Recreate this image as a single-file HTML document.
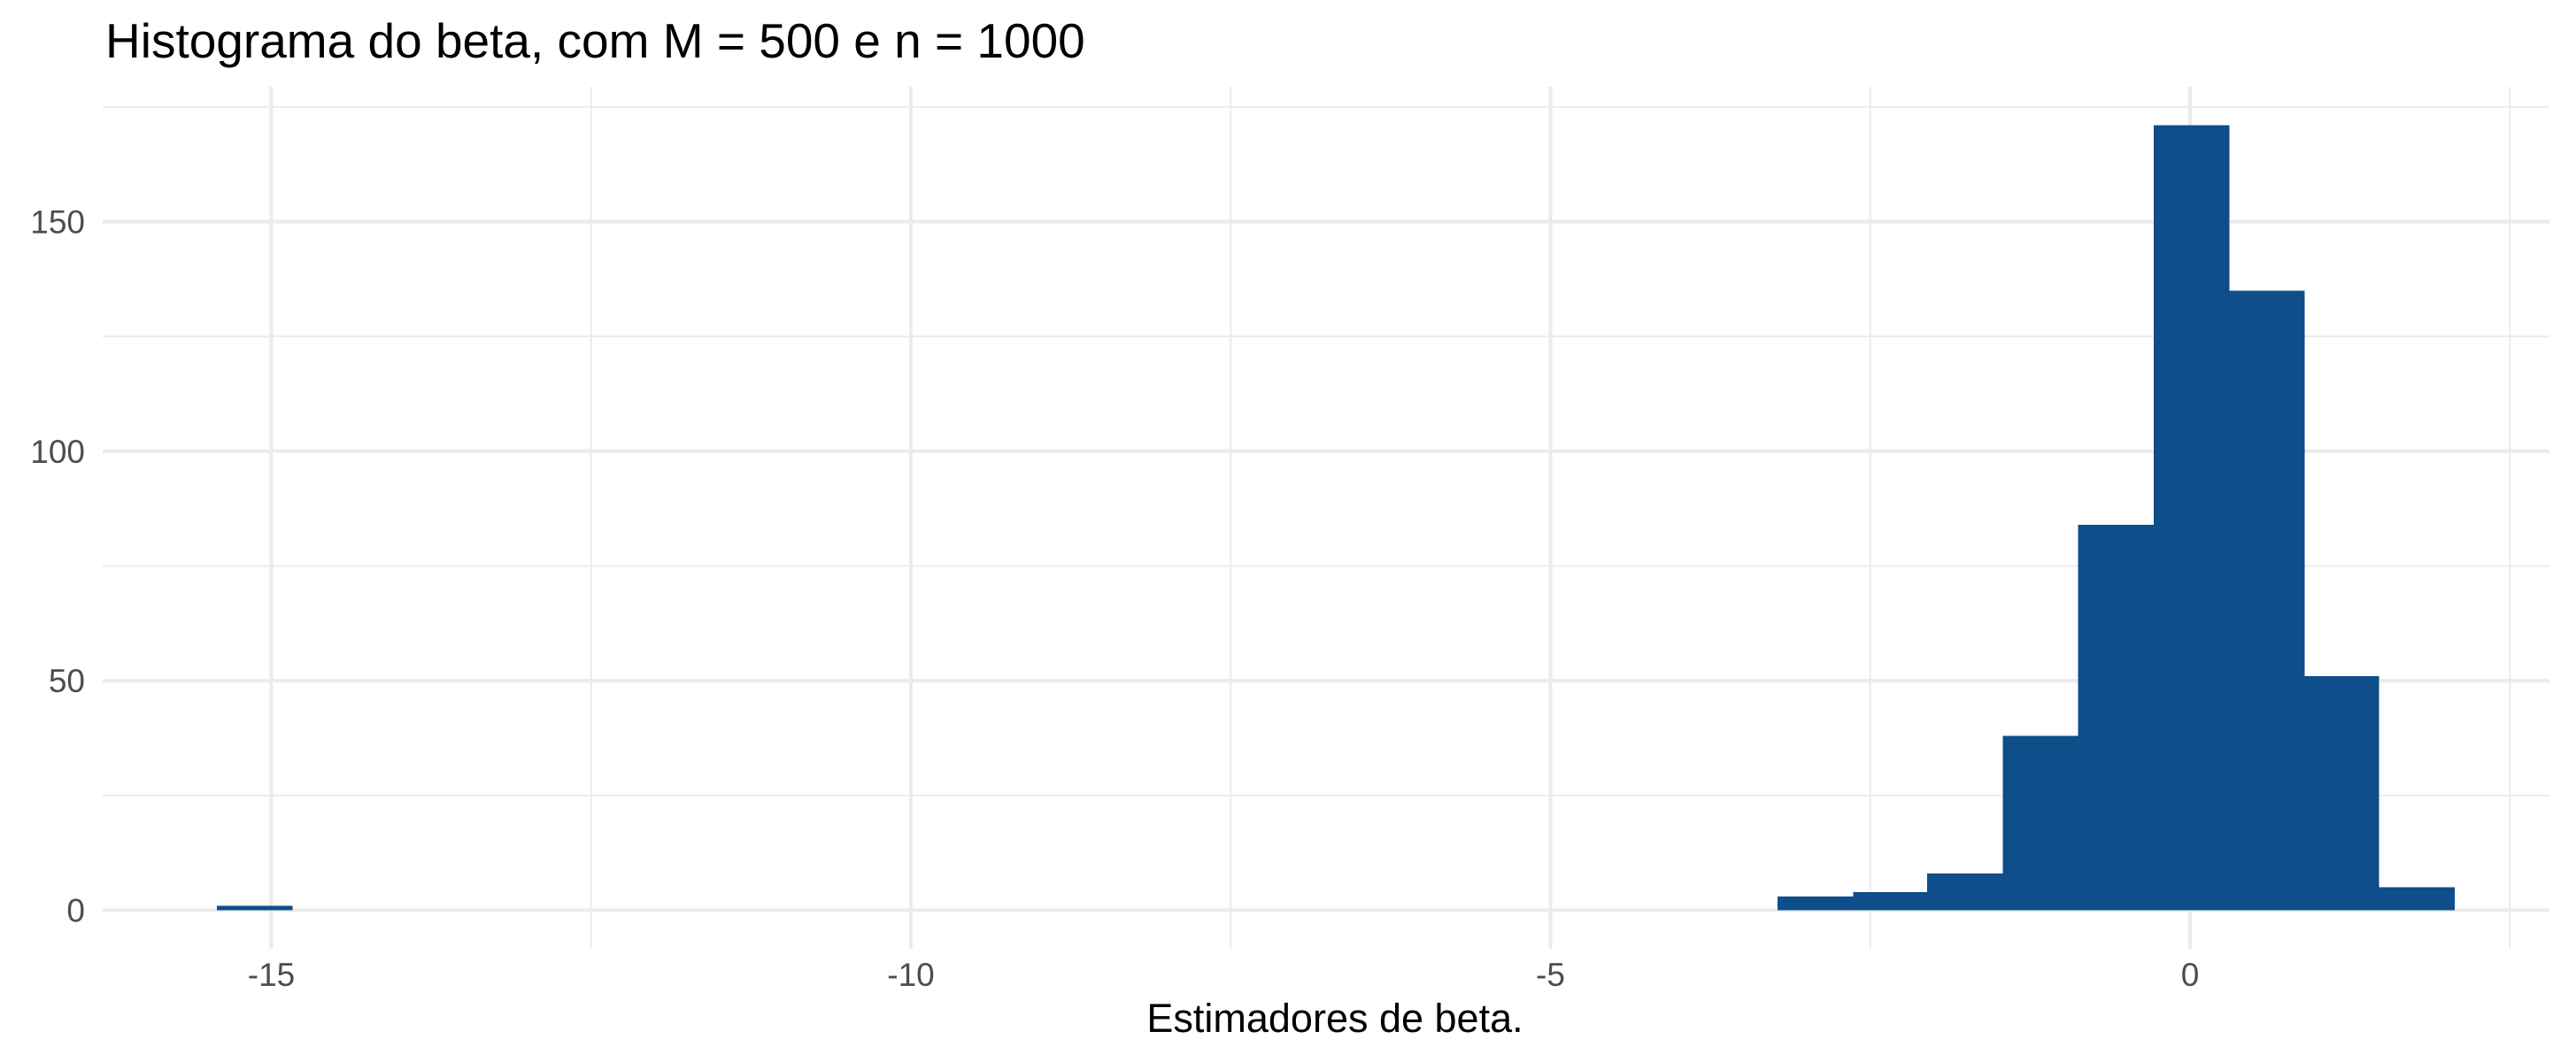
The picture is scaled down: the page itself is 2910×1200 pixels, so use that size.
<!DOCTYPE html>
<html><head><meta charset="utf-8"><style>
html,body{margin:0;padding:0;background:#fff;}
svg{display:block;font-family:"Liberation Sans",sans-serif;}
</style></head><body>
<svg id="chart" width="2910" height="1200" viewBox="0 0 2910 1200">
<text x="119" y="65" font-size="55" fill="#000">Histograma do beta, com M = 500 e n = 1000</text>
<g id="grid"></g>
<g id="bars" shape-rendering="crispEdges"></g>
<g id="axes"></g>
<text x="1508" y="1166" font-size="45" text-anchor="middle" fill="#000">Estimadores de beta.</text>
</svg>
<script>
const binCenters = [-15.13, -2.93, -2.34, -1.76, -1.17, -0.58, 0.01, 0.60, 1.18, 1.77];
const binCounts = [1, 3, 4, 8, 38, 84, 171, 135, 51, 5];
const binWidth = 0.5885;
const xTicks = [-15, -10, -5, 0];
const xTickLabels = ["-15", "-10", "-5", "0"];
const xMinor = [-12.5, -7.5, -2.5, 2.5];
const yTicks = [0, 50, 100, 150];
const yTickLabels = ["0", "50", "100", "150"];
const yMinor = [25, 75, 125, 175];

const NS = "http://www.w3.org/2000/svg";
const panel = {left: 116, right: 2880, top: 98, bottom: 1072};
function xs(v){ return 2474 + v * 144.5; }
function ys(v){ return 1028.5 - v * 5.187; }
function mk(tag, attrs, parent){
  const e = document.createElementNS(NS, tag);
  for (const k in attrs) e.setAttribute(k, attrs[k]);
  parent.appendChild(e);
  return e;
}
const grid = document.getElementById('grid');
const bars = document.getElementById('bars');
const axes = document.getElementById('axes');
yMinor.forEach(v => {
  const l = mk('line', {x1: panel.left, x2: panel.right, y1: ys(v), y2: ys(v), stroke: '#EBEBEB', 'stroke-width': 2}, grid);
  
  
});
xMinor.forEach(v => {
  const l = mk('line', {x1: xs(v), x2: xs(v), y1: panel.top, y2: panel.bottom, stroke: '#EBEBEB', 'stroke-width': 2}, grid);
  
  
});
yTicks.forEach((v, i) => {
  const l = mk('line', {x1: panel.left, x2: panel.right, y1: ys(v), y2: ys(v), stroke: '#EBEBEB', 'stroke-width': 4}, grid);
  
  
  const t = mk('text', {x: 96, y: ys(v) + 13, 'font-size': 37, 'text-anchor': 'end', fill: '#4D4D4D'}, axes);
  t.textContent = yTickLabels[i];
  
  
});
xTicks.forEach((v, i) => {
  const l = mk('line', {x1: xs(v), x2: xs(v), y1: panel.top, y2: panel.bottom, stroke: '#EBEBEB', 'stroke-width': 4}, grid);
  
  
  const t = mk('text', {x: xs(v), y: 1114, 'font-size': 37, 'text-anchor': 'middle', fill: '#4D4D4D'}, axes);
  t.textContent = xTickLabels[i];
  
  
});
binCenters.forEach((c, i) => {
  const x0 = xs(c - binWidth / 2), x1 = xs(c + binWidth / 2);
  const y0 = ys(binCounts[i]);
  const r = mk('rect', {x: x0, y: y0, width: x1 - x0 + 0.5, height: ys(0) - y0, fill: '#0D4E8B'}, bars);
  
  
});
</script>
</body></html>
